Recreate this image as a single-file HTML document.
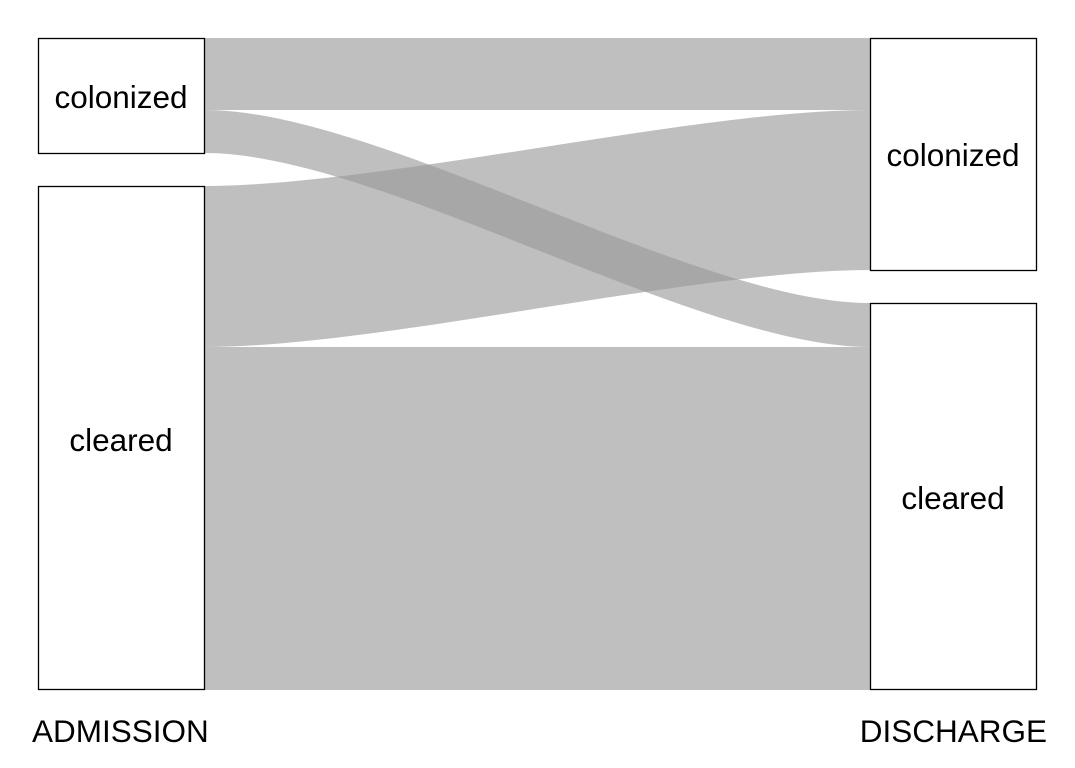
<!DOCTYPE html>
<html><head><meta charset="utf-8"><style>
html,body{margin:0;padding:0;background:#fff;}
svg{display:block;}
text{font-family:"Liberation Sans",Arial,sans-serif;fill:#000;}
</style></head><body>
<svg width="1075" height="768" viewBox="0 0 1075 768" xmlns="http://www.w3.org/2000/svg">
<g fill="#9a9a9a" fill-opacity="0.63">
<path d="M205,38 L870,38 L870,110 L205,110 Z"/>
<path d="M205,110 C380,110 695,303 870,303 L870,347 C695,347 380,153 205,153 Z"/>
<path d="M205,186 C380,186 695,110 870,110 L870,270 C695,270 380,347 205,347 Z"/>
<path d="M205,347 L870,347 L870,690 L205,690 Z"/>
</g>
<g fill="#fff" stroke="#000" stroke-width="1.3">
<rect x="38.5" y="38.5" width="166" height="115"/>
<rect x="38.5" y="186.5" width="166" height="503"/>
<rect x="870.5" y="38.5" width="166" height="232"/>
<rect x="870.5" y="303.5" width="166" height="386"/>
</g>
<g font-size="31.5" text-anchor="middle">
<text x="121" y="108">colonized</text>
<text x="121" y="451">cleared</text>
<text x="953" y="166">colonized</text>
<text x="953" y="509">cleared</text>
</g>
<text x="32" y="742" font-size="31.5">ADMISSION</text>
<text x="1047" y="742" font-size="31.5" text-anchor="end">DISCHARGE</text>
</svg>
</body></html>
